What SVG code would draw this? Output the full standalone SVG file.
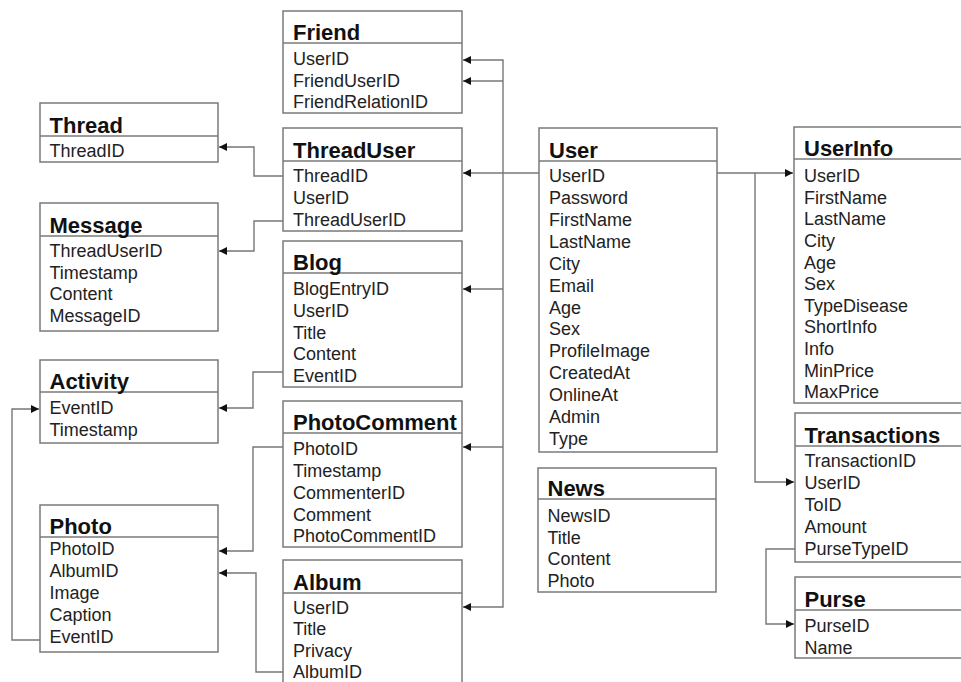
<svg xmlns="http://www.w3.org/2000/svg" width="961" height="682" viewBox="0 0 961 682">
<style>
.box{fill:#fff;stroke:#7a7a7a;stroke-width:1.5}
.div{stroke:#7a7a7a;stroke-width:1.5}
.t{font-family:"Liberation Sans",Arial,sans-serif;font-weight:bold;font-size:22px;fill:#111}
.r{font-family:"Liberation Sans",Arial,sans-serif;font-size:18px;fill:#222}
.c{fill:none;stroke:#777;stroke-width:1.4}
</style>
<defs>
<marker id="ah" markerUnits="userSpaceOnUse" markerWidth="9" markerHeight="8" refX="8" refY="4" orient="auto">
<path d="M0,0 L8,4 L0,8 Z" fill="#111"/>
</marker>
</defs>
<rect width="961" height="682" fill="#fff"/>
<g id="connectors">
<path class="c" d="M539,173 H463" marker-end="url(#ah)"/>
<path class="c" d="M503,173 V60 H463" marker-end="url(#ah)"/>
<path class="c" d="M503,81 H463" marker-end="url(#ah)"/>
<path class="c" d="M503,173 V607 H463" marker-end="url(#ah)"/>
<path class="c" d="M503,289 H463" marker-end="url(#ah)"/>
<path class="c" d="M503,447 H463" marker-end="url(#ah)"/>
<path class="c" d="M283,176 H254 V147 H219" marker-end="url(#ah)"/>
<path class="c" d="M283,221 H254 V251 H219" marker-end="url(#ah)"/>
<path class="c" d="M283,372 H253 V408 H219" marker-end="url(#ah)"/>
<path class="c" d="M283,447 H253 V551 H219" marker-end="url(#ah)"/>
<path class="c" d="M283,672 H256 V573 H219" marker-end="url(#ah)"/>
<path class="c" d="M40,640 H12 V409 H39" marker-end="url(#ah)"/>
<path class="c" d="M717,173 H793" marker-end="url(#ah)"/>
<path class="c" d="M755,173 V482 H794" marker-end="url(#ah)"/>
<path class="c" d="M795,549 H766 V624 H794" marker-end="url(#ah)"/>
</g>
<g id="Friend">
<rect class="box" x="283" y="11" width="179" height="102"/>
<line class="div" x1="283" y1="43" x2="462" y2="43"/>
<text class="t" x="293" y="39.5">Friend</text>
<text class="r" x="293" y="65">UserID</text>
<text class="r" x="293" y="86.5">FriendUserID</text>
<text class="r" x="293" y="108">FriendRelationID</text>
</g>
<g id="Thread">
<rect class="box" x="40" y="103" width="178" height="59"/>
<line class="div" x1="40" y1="136" x2="218" y2="136"/>
<text class="t" x="49.5" y="132.5">Thread</text>
<text class="r" x="49.5" y="157">ThreadID</text>
</g>
<g id="ThreadUser">
<rect class="box" x="283" y="128" width="179" height="103"/>
<line class="div" x1="283" y1="161" x2="462" y2="161"/>
<text class="t" x="293" y="157.5">ThreadUser</text>
<text class="r" x="293" y="182">ThreadID</text>
<text class="r" x="293" y="204">UserID</text>
<text class="r" x="293" y="226">ThreadUserID</text>
</g>
<g id="Message">
<rect class="box" x="40" y="203" width="178" height="128"/>
<line class="div" x1="40" y1="236" x2="218" y2="236"/>
<text class="t" x="49.5" y="232.5">Message</text>
<text class="r" x="49.5" y="257">ThreadUserID</text>
<text class="r" x="49.5" y="278.5">Timestamp</text>
<text class="r" x="49.5" y="300">Content</text>
<text class="r" x="49.5" y="321.5">MessageID</text>
</g>
<g id="Blog">
<rect class="box" x="283" y="241" width="179" height="146"/>
<line class="div" x1="283" y1="273" x2="462" y2="273"/>
<text class="t" x="293" y="269.5">Blog</text>
<text class="r" x="293" y="295">BlogEntryID</text>
<text class="r" x="293" y="317">UserID</text>
<text class="r" x="293" y="338.5">Title</text>
<text class="r" x="293" y="360">Content</text>
<text class="r" x="293" y="382">EventID</text>
</g>
<g id="Activity">
<rect class="box" x="40" y="360" width="178" height="83"/>
<line class="div" x1="40" y1="392" x2="218" y2="392"/>
<text class="t" x="49.5" y="388.5">Activity</text>
<text class="r" x="49.5" y="414">EventID</text>
<text class="r" x="49.5" y="436">Timestamp</text>
</g>
<g id="PhotoComment">
<rect class="box" x="283" y="401" width="179" height="146"/>
<line class="div" x1="283" y1="433" x2="462" y2="433"/>
<text class="t" x="293" y="429.5">PhotoComment</text>
<text class="r" x="293" y="455">PhotoID</text>
<text class="r" x="293" y="477">Timestamp</text>
<text class="r" x="293" y="499">CommenterID</text>
<text class="r" x="293" y="520.5">Comment</text>
<text class="r" x="293" y="542">PhotoCommentID</text>
</g>
<g id="Photo">
<rect class="box" x="40" y="505" width="178" height="147"/>
<line class="div" x1="40" y1="537" x2="218" y2="537"/>
<text class="t" x="49.5" y="533.5">Photo</text>
<text class="r" x="49.5" y="555">PhotoID</text>
<text class="r" x="49.5" y="577">AlbumID</text>
<text class="r" x="49.5" y="599">Image</text>
<text class="r" x="49.5" y="621">Caption</text>
<text class="r" x="49.5" y="643">EventID</text>
</g>
<g id="Album">
<rect class="box" x="283" y="560" width="179" height="140"/>
<line class="div" x1="283" y1="593" x2="462" y2="593"/>
<text class="t" x="293" y="589.5">Album</text>
<text class="r" x="293" y="613.5">UserID</text>
<text class="r" x="293" y="635">Title</text>
<text class="r" x="293" y="656.5">Privacy</text>
<text class="r" x="293" y="678">AlbumID</text>
</g>
<g id="User">
<rect class="box" x="539" y="128" width="178" height="324"/>
<line class="div" x1="539" y1="161" x2="717" y2="161"/>
<text class="t" x="549" y="157.5">User</text>
<text class="r" x="549" y="182">UserID</text>
<text class="r" x="549" y="204">Password</text>
<text class="r" x="549" y="226">FirstName</text>
<text class="r" x="549" y="247.5">LastName</text>
<text class="r" x="549" y="269.5">City</text>
<text class="r" x="549" y="291.5">Email</text>
<text class="r" x="549" y="313.5">Age</text>
<text class="r" x="549" y="335">Sex</text>
<text class="r" x="549" y="357">ProfileImage</text>
<text class="r" x="549" y="379">CreatedAt</text>
<text class="r" x="549" y="401">OnlineAt</text>
<text class="r" x="549" y="423">Admin</text>
<text class="r" x="549" y="445">Type</text>
</g>
<g id="News">
<rect class="box" x="538" y="468" width="178" height="124"/>
<line class="div" x1="538" y1="499" x2="716" y2="499"/>
<text class="t" x="547.5" y="495.5">News</text>
<text class="r" x="547.5" y="522">NewsID</text>
<text class="r" x="547.5" y="543.5">Title</text>
<text class="r" x="547.5" y="565">Content</text>
<text class="r" x="547.5" y="587">Photo</text>
</g>
<g id="UserInfo">
<rect class="box" x="794" y="127" width="180" height="276"/>
<line class="div" x1="794" y1="159" x2="974" y2="159"/>
<text class="t" x="804" y="155.5">UserInfo</text>
<text class="r" x="804" y="182">UserID</text>
<text class="r" x="804" y="203.5">FirstName</text>
<text class="r" x="804" y="225">LastName</text>
<text class="r" x="804" y="247">City</text>
<text class="r" x="804" y="268.5">Age</text>
<text class="r" x="804" y="290">Sex</text>
<text class="r" x="804" y="311.5">TypeDisease</text>
<text class="r" x="804" y="333">ShortInfo</text>
<text class="r" x="804" y="355">Info</text>
<text class="r" x="804" y="376.5">MinPrice</text>
<text class="r" x="804" y="398">MaxPrice</text>
</g>
<g id="Transactions">
<rect class="box" x="795" y="413" width="180" height="149"/>
<line class="div" x1="795" y1="446" x2="975" y2="446"/>
<text class="t" x="804.5" y="442.5">Transactions</text>
<text class="r" x="804.5" y="467">TransactionID</text>
<text class="r" x="804.5" y="489">UserID</text>
<text class="r" x="804.5" y="511">ToID</text>
<text class="r" x="804.5" y="533">Amount</text>
<text class="r" x="804.5" y="555">PurseTypeID</text>
</g>
<g id="Purse">
<rect class="box" x="795" y="577" width="180" height="81"/>
<line class="div" x1="795" y1="610" x2="975" y2="610"/>
<text class="t" x="804.5" y="606.5">Purse</text>
<text class="r" x="804.5" y="632">PurseID</text>
<text class="r" x="804.5" y="654">Name</text>
</g>
</svg>
